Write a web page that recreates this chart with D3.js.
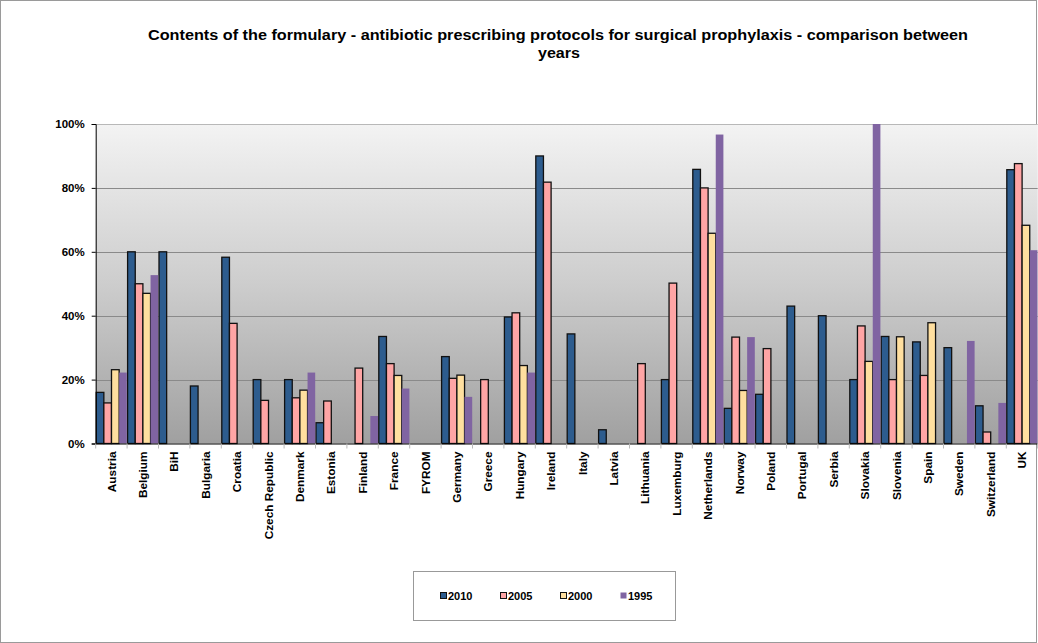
<!DOCTYPE html>
<html>
<head>
<meta charset="utf-8">
<script src="https://cdn.jsdelivr.net/npm/d3@7"></script>
<style>
  html, body { margin: 0; padding: 0; background: #fff; }
  svg { display: block; font-family: Arial, "Liberation Sans", sans-serif; }
</style>
</head>
<body>
<svg id="chart" width="1038" height="643"></svg>
<script>
const categories = ["Austria","Belgium","BiH","Bulgaria","Croatia","Czech Republic","Denmark","Estonia","Finland","France","FYROM","Germany","Greece","Hungary","Ireland","Italy","Latvia","Lithuania","Luxemburg","Netherlands","Norway","Poland","Portugal","Serbia","Slovakia","Slovenia","Spain","Sweden","Switzerland","UK"];
const seriesNames = ["2010","2005","2000","1995"];
const v2010 = [16, 60, 60, 18, 58.3, 20, 20, 6.5, null, 33.5, null, 27.2, null, 39.6, 90, 34.3, 4.3, null, 20, 85.8, 11, 15.4, 43, 40, 20, 33.5, 31.8, 30, 11.8, 85.7];
const v2005 = [12.7, 50, null, null, 37.6, 13.5, 14.3, 13.3, 23.6, 25, null, 20.4, 20, 40.9, 81.8, null, null, 25, 50.2, 80, 33.3, 29.7, null, null, 36.8, 20, 21.3, null, 3.6, 87.6];
const v2000 = [23.1, 47, null, null, null, null, 16.7, null, null, 21.3, null, 21.4, null, 24.4, null, null, null, null, null, 65.8, 16.6, null, null, null, 25.7, 33.4, 37.8, null, null, 68.3];
const v1995 = [22.2, 52.7, null, null, null, null, 22.2, null, 8.6, 17.2, null, 14.6, null, 22.2, null, null, null, null, null, 96.7, 33.3, null, null, null, 100, null, null, 32.1, 12.7, 60.5];
const yTicks = [0, 20, 40, 60, 80, 100];
const colors = ["#2D5C8E", "#FFA5A5", "#FFDF9F", "#8064A2"];
const title1 = "Contents of the formulary - antibiotic prescribing protocols for surgical prophylaxis - comparison between";
const title2 = "years";

const seriesValues = [v2010, v2005, v2000, v1995];
const svg = d3.select("#chart");

// outer border
svg.append("rect").attr("x", 0.5).attr("y", 0.5).attr("width", 1036).attr("height", 642)
  .attr("fill", "#fff").attr("stroke", "#9a9a9a").attr("stroke-width", 1);

const plotLeft = 95.7, catW = 31.4;
const plotRight = plotLeft + categories.length * catW;
const plotTop = 124, plotBottom = 443.5;

const x = d3.scaleBand().domain(categories).range([plotLeft, plotRight]).padding(0);
const xs = d3.scaleBand().domain(seriesNames).range([0.5, catW - 0.3]).padding(0);
const y = d3.scaleLinear().domain([0, 100]).range([plotBottom, plotTop]);

const defs = svg.append("defs");
const grad = defs.append("linearGradient").attr("id", "bg").attr("x1", 0).attr("y1", 0).attr("x2", 0).attr("y2", 1);
grad.append("stop").attr("offset", "0%").attr("stop-color", "#F3F3F3");
grad.append("stop").attr("offset", "50%").attr("stop-color", "#CDCDCD");
grad.append("stop").attr("offset", "100%").attr("stop-color", "#A0A0A0");

svg.append("rect").attr("x", plotLeft).attr("y", plotTop).attr("width", plotRight - plotLeft).attr("height", plotBottom - plotTop)
  .attr("fill", "url(#bg)");

// gridlines
svg.append("g").selectAll("line").data(yTicks.filter(d => d > 0)).join("line")
  .attr("x1", plotLeft).attr("x2", plotRight)
  .attr("y1", d => Math.round(y(d)) + 0.5).attr("y2", d => Math.round(y(d)) + 0.5)
  .attr("stroke", d => d === 100 ? "#b8b8b8" : "#8a8a8a").attr("stroke-width", 1);

// bars
const gBars = svg.append("g");
seriesNames.forEach((s, si) => {
  const data = categories.map((c, i) => ({c, v: seriesValues[si][i]})).filter(d => d.v != null);
  gBars.append("g").selectAll("rect").data(data).join("rect")
    .attr("x", d => x(d.c) + xs(s))
    .attr("y", d => y(d.v))
    .attr("width", xs.bandwidth())
    .attr("height", d => y(0) - y(d.v))
    .attr("fill", colors[si])
    .attr("stroke", si === 3 ? "none" : "#111")
    .attr("stroke-width", si === 3 ? 0 : 1.3);
});

// y axis
const yAxis = d3.axisLeft(y).tickValues(yTicks).tickFormat(d => d + "%").tickSize(4).tickPadding(7);
const gy = svg.append("g").attr("transform", `translate(${plotLeft},0)`).call(yAxis);
gy.select(".domain").attr("stroke", "#000");
gy.selectAll(".tick line").attr("stroke", "#000");
gy.selectAll("text").attr("font-size", 11.5).attr("font-weight", "bold").attr("fill", "#000")
  .attr("font-family", "Arial, 'Liberation Sans', sans-serif");

// x axis
const xAxis = d3.axisBottom(x).tickSize(0).tickPadding(0);
const gx = svg.append("g").attr("transform", `translate(0,${plotBottom})`).call(xAxis);
gx.select(".domain").attr("stroke", "#000").attr("d", `M${plotLeft},0.5H${plotRight}`);
gx.selectAll(".tick text")
  .attr("font-size", 11.8).attr("font-weight", "bold").attr("fill", "#000")
  .attr("font-family", "Arial, 'Liberation Sans', sans-serif")
  .attr("text-anchor", "end")
  .attr("dy", "0.35em")
  .attr("transform", "translate(0,8) rotate(-90)");
// category boundary ticks
svg.append("g").selectAll("line").data(d3.range(categories.length + 1)).join("line")
  .attr("x1", i => plotLeft + i * catW).attr("x2", i => plotLeft + i * catW)
  .attr("y1", plotBottom).attr("y2", plotBottom + 5)
  .attr("stroke", "#bbb").attr("stroke-width", 1);

// title
svg.append("text").attr("x", 558).attr("y", 40).attr("text-anchor", "middle")
  .attr("font-size", 14).attr("font-weight", "bold")
  .attr("textLength", 820).attr("lengthAdjust", "spacingAndGlyphs").text(title1);
svg.append("text").attr("x", 559).attr("y", 57.5).attr("text-anchor", "middle")
  .attr("font-size", 14).attr("font-weight", "bold")
  .attr("textLength", 42).attr("lengthAdjust", "spacingAndGlyphs").text(title2);

// legend
const lg = svg.append("g");
lg.append("rect").attr("x", 413.5).attr("y", 571.5).attr("width", 262).attr("height", 49)
  .attr("fill", "#fff").attr("stroke", "#999");
const legendX = [440, 500, 560, 620];
seriesNames.forEach((s, i) => {
  lg.append("rect").attr("x", legendX[i] + 0.5).attr("y", 592.5).attr("width", 6).attr("height", 6)
    .attr("fill", colors[i]).attr("stroke", i === 3 ? "none" : "#111").attr("stroke-width", 1);
  lg.append("text").attr("x", legendX[i] + 8).attr("y", 599.5)
    .attr("font-size", 11).attr("font-weight", "bold").text(s);
});
</script>
</body>
</html>
